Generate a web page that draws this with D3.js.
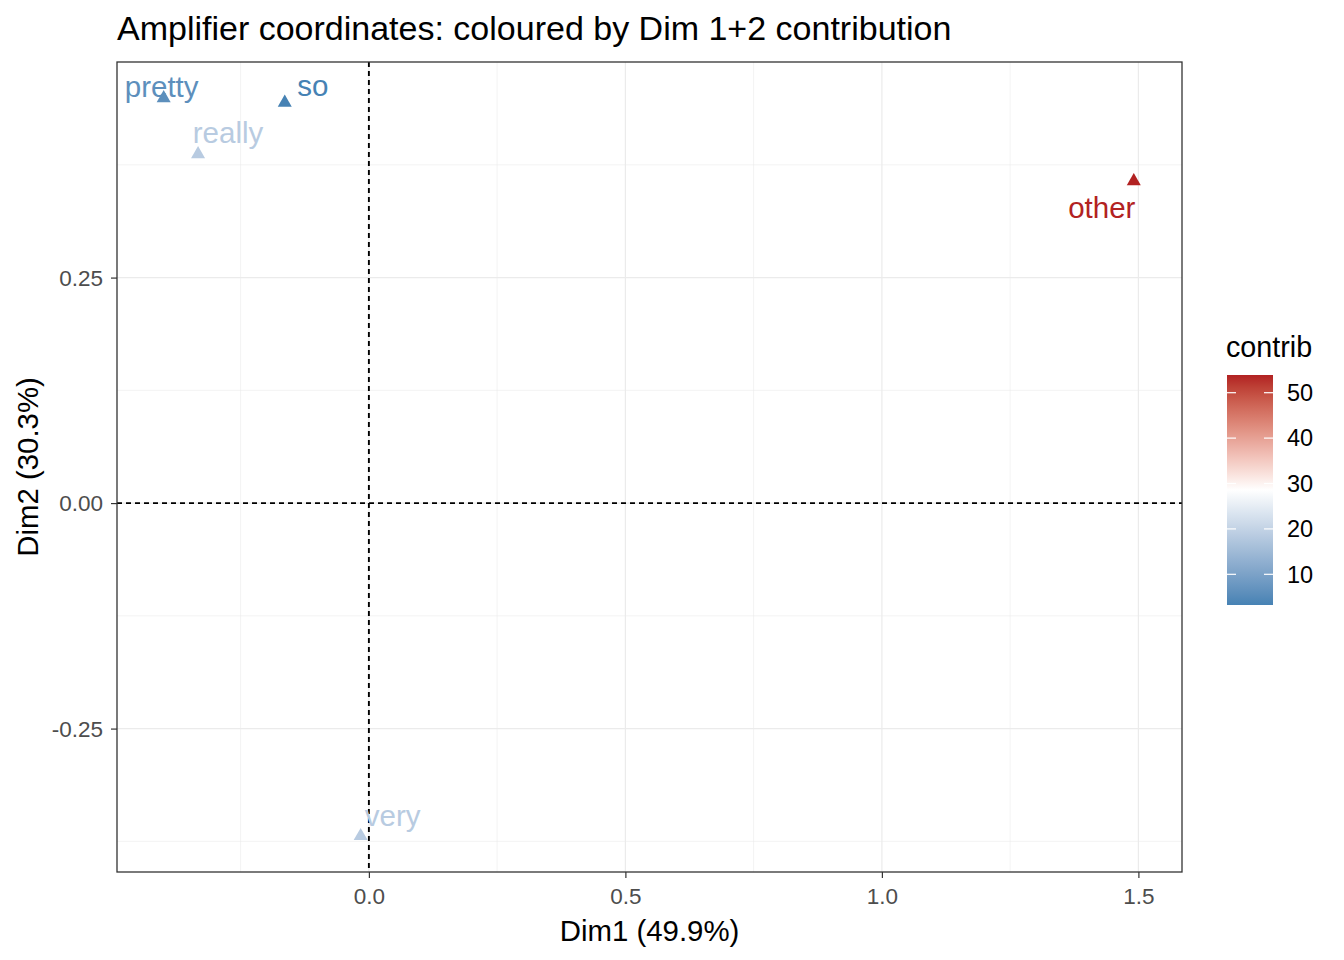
<!DOCTYPE html>
<html><head><meta charset="utf-8">
<script src="https://cdn.jsdelivr.net/npm/d3@7"></script>
<style>body{margin:0;background:#fff}svg{display:block;font-family:"Liberation Sans",Arial,sans-serif}</style>
</head><body>
<svg id="c" width="1344" height="960"></svg>
<script>
const labels = ["pretty","so","really","other","very"];
const dim1 = [-0.400, -0.164, -0.333, 1.491, -0.016];
const dim2 = [0.450, 0.445, 0.388, 0.358, -0.368];
const contrib = [6.0, 3.24, 18.5, 53.9, 18.5];
const xTicks = [0.0, 0.5, 1.0, 1.5];
const yTicks = [-0.25, 0.0, 0.25];
const legendTicks = [10, 20, 30, 40, 50];

const svg = d3.select("#c");
const P = {l:117, r:1182, t:62, b:872};
const x = d3.scaleLinear().domain([-0.491, 1.585]).range([P.l, P.r]);
const y = d3.scaleLinear().domain([-0.409, 0.489]).range([P.b, P.t]);
const cmin = d3.min(contrib), cmax = d3.max(contrib), cmid = (cmin+cmax)/2;
const color = d3.scaleLinear().domain([cmin, cmid, cmax]).range(["steelblue","white","firebrick"]).interpolate(d3.interpolateLab);
const FONT = "Liberation Sans, Arial, sans-serif";

// grid
const g = svg.append("g");
const xMinor = [-0.25, 0.25, 0.75, 1.25];
const yMinor = [-0.375, -0.125, 0.125, 0.375];
g.selectAll(".xm").data(xMinor).join("line").attr("x1",d=>x(d)).attr("x2",d=>x(d)).attr("y1",P.t).attr("y2",P.b).attr("stroke","#EBEBEB").attr("stroke-width",0.6);
g.selectAll(".ym").data(yMinor).join("line").attr("y1",d=>y(d)).attr("y2",d=>y(d)).attr("x1",P.l).attr("x2",P.r).attr("stroke","#EBEBEB").attr("stroke-width",0.6);
g.selectAll(".xM").data(xTicks).join("line").attr("x1",d=>x(d)).attr("x2",d=>x(d)).attr("y1",P.t).attr("y2",P.b).attr("stroke","#EBEBEB").attr("stroke-width",1.2);
g.selectAll(".yM").data(yTicks).join("line").attr("y1",d=>y(d)).attr("y2",d=>y(d)).attr("x1",P.l).attr("x2",P.r).attr("stroke","#EBEBEB").attr("stroke-width",1.2);

// dashed zero lines
svg.append("line").attr("x1",x(0)).attr("x2",x(0)).attr("y1",P.t).attr("y2",P.b).attr("stroke","#000").attr("stroke-width",1.9).attr("stroke-dasharray","5,4");
svg.append("line").attr("y1",y(0)).attr("y2",y(0)).attr("x1",P.l).attr("x2",P.r).attr("stroke","#000").attr("stroke-width",1.9).attr("stroke-dasharray","5,4");

// points
const data = labels.map((l,i)=>({l, x:dim1[i], y:dim2[i], c:contrib[i]}));
svg.selectAll(".pt").data(data).join("path")
  .attr("d", d3.symbol(d3.symbolTriangle, 85))
  .attr("transform", d=>`translate(${x(d.x)},${y(d.y)+1})`)
  .attr("fill", d=>color(d.c));
// label nudges (pixel offsets from point, styling only)
const nudge = {pretty:[-2,-11], so:[28,-16], really:[30,-20], other:[-32,28], very:[32,-19]};
svg.selectAll(".lb").data(data).join("text")
  .attr("x", d=>x(d.x)+nudge[d.l][0]).attr("y", d=>y(d.y)+nudge[d.l][1])
  .attr("text-anchor","middle").attr("dy","0.35em")
  .attr("font-size",29.5).attr("fill", d=>color(d.c)).text(d=>d.l);

// panel border
svg.append("rect").attr("x",P.l).attr("y",P.t).attr("width",P.r-P.l).attr("height",P.b-P.t).attr("fill","none").attr("stroke","#333").attr("stroke-width",1.3);

// axes
const fmt = f => d => d3.format(f)(d).replace("\u2212","-");
const xa = svg.append("g").attr("transform",`translate(0,${P.b})`).call(d3.axisBottom(x).tickValues(xTicks).tickFormat(fmt(".1f")).tickSize(6).tickPadding(10));
const ya = svg.append("g").attr("transform",`translate(${P.l},0)`).call(d3.axisLeft(y).tickValues(yTicks).tickFormat(fmt(".2f")).tickSize(6).tickPadding(8));
[xa,ya].forEach(a=>{a.select(".domain").remove();a.selectAll("line").attr("stroke","#333").attr("stroke-width",1.2);a.selectAll("text").attr("fill","#4D4D4D").attr("font-size",22.5).attr("font-family",FONT);});
ya.selectAll("text").attr("dy","0.35em");

// axis titles
svg.append("text").attr("x",(P.l+P.r)/2).attr("y",941).attr("text-anchor","middle").attr("font-size",29.4).text("Dim1 (49.9%)");
svg.append("text").attr("transform",`translate(38,${(P.t+P.b)/2}) rotate(-90)`).attr("text-anchor","middle").attr("font-size",29.4).text("Dim2 (30.3%)");

// title
svg.append("text").attr("x",117).attr("y",40).attr("font-size",34).text("Amplifier coordinates: coloured by Dim 1+2 contribution");

// legend
const L = {x:1227, w:46, t:375, b:605};
const ly = d3.scaleLinear().domain([cmin,cmax]).range([L.b,L.t]);
const defs = svg.append("defs");
const grad = defs.append("linearGradient").attr("id","lg").attr("x1",0).attr("x2",0).attr("y1",1).attr("y2",0);
d3.range(0,21).forEach(i=>{const v=cmin+(cmax-cmin)*i/20; grad.append("stop").attr("offset",i/20).attr("stop-color",color(v));});
svg.append("rect").attr("x",L.x).attr("y",L.t).attr("width",L.w).attr("height",L.b-L.t).attr("fill","url(#lg)");
legendTicks.forEach(v=>{
  svg.append("line").attr("x1",L.x).attr("x2",L.x+9).attr("y1",ly(v)).attr("y2",ly(v)).attr("stroke","#fff").attr("stroke-width",1.2);
  svg.append("line").attr("x1",L.x+L.w-9).attr("x2",L.x+L.w).attr("y1",ly(v)).attr("y2",ly(v)).attr("stroke","#fff").attr("stroke-width",1.2);
  svg.append("text").attr("x",1287).attr("y",ly(v)).attr("dy","0.35em").attr("font-size",23.5).text(v);
});
svg.append("text").attr("x",1226).attr("y",357).attr("font-size",28.7).text("contrib");
</script>
</body></html>
